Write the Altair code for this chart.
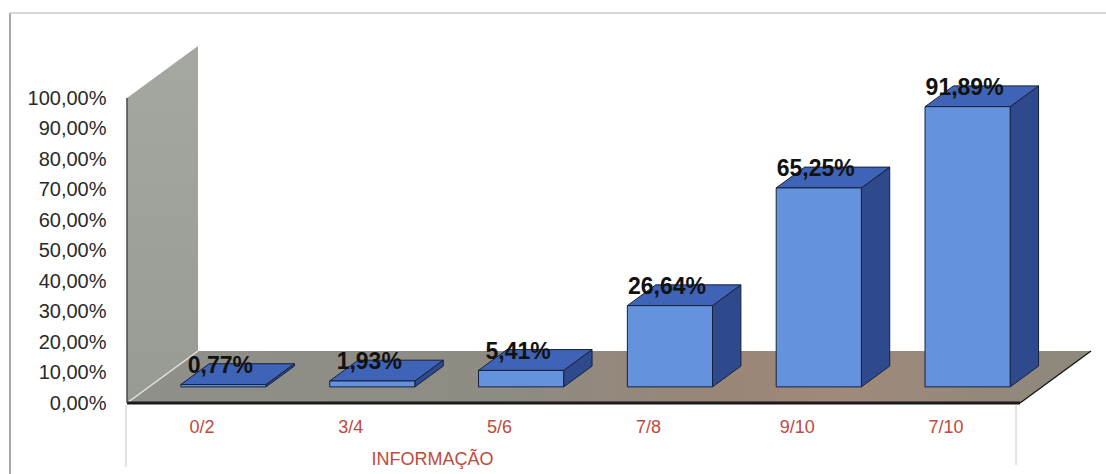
import json
import altair as alt
import pandas as pd

# ---- data -------------------------------------------------------------
categories = ["0/2", "3/4", "5/6", "7/8", "9/10", "7/10"]
shares = [0.77, 1.93, 5.41, 26.64, 65.25, 91.89]
y_ticks = [0, 10, 20, 30, 40, 50, 60, 70, 80, 90, 100]
x_title = "INFORMAÇÃO"

# ---- 3-D projection (x in category slots, y in percent) ---------------
N = len(categories)
DEPTH_X = 0.477          # horizontal shift across the full floor depth
DEPTH_Y = 17.05          # vertical shift across the full floor depth
FRONT, BACK = 0.31, 0.71  # bar front/back planes as fractions of depth
HALF_W = 0.286
SHIFT = FRONT * DEPTH_X
BASE = FRONT * DEPTH_Y
BAR_DX = (BACK - FRONT) * DEPTH_X
BAR_DY = (BACK - FRONT) * DEPTH_Y
X_MAX = N + DEPTH_X
Y_MAX = 117.4

PLOT_W, PLOT_H = 964, 358

FRONT_COL = "#6592dd"
TOP_COL = "#3f63b6"
SIDE_COL = "#2f4a8c"
EDGE_COL = "#16203d"

fronts, sides, tops, labels = [], [], [], []
for i, (c, v) in enumerate(zip(categories, shares)):
    cx = i + 0.5 + SHIFT
    L, R = cx - HALF_W, cx + HALF_W
    fronts.append({"cat": c, "l": L, "r": R, "b": BASE, "t": BASE + v})
    sides.append({"cat": c, "x": R, "y": BASE, "y2": BASE + v})
    sides.append({"cat": c, "x": R + BAR_DX, "y": BASE + BAR_DY, "y2": BASE + v + BAR_DY})
    tops.append({"cat": c, "y": BASE + v, "x": L, "x2": R})
    tops.append({"cat": c, "y": BASE + v + BAR_DY, "x": L + BAR_DX, "x2": R + BAR_DX})
    labels.append({"cat": c, "x": cx, "y": BASE + v + BAR_DY,
                   "txt": f"{v:.2f}".replace(".", ",") + "%"})

wall = pd.DataFrame([
    {"x": 0.0, "y": 0.0, "y2": 100.0},
    {"x": DEPTH_X, "y": DEPTH_Y, "y2": 100.0 + DEPTH_Y},
])
floor = pd.DataFrame([
    {"y": 0.0, "x": 0.0, "x2": float(N)},
    {"y": DEPTH_Y, "x": DEPTH_X, "x2": N + DEPTH_X},
])
seam = pd.DataFrame([{"x": 0.0, "y": 0.0}, {"x": DEPTH_X, "y": DEPTH_Y}])
right_edge = pd.DataFrame([{"x": float(N), "y": 0.0}, {"x": N + DEPTH_X, "y": DEPTH_Y}])
front_edge = pd.DataFrame([{"x": 0.0, "x2": float(N), "y": 0.0}])
wall_edge = pd.DataFrame([{"x": 0.0, "y": 0.0, "y2": 100.0}])

# ---- scales & axes ----------------------------------------------------
xs = alt.Scale(domain=[0, X_MAX], nice=False, zero=False)
ys = alt.Scale(domain=[0, Y_MAX], nice=False, zero=False)

x_axis = alt.Axis(
    values=[i + 0.5 for i in range(N)],
    labelExpr=json.dumps(categories) + "[floor(datum.value)]",
    domain=False, ticks=False, grid=False, labelFlush=False,
    labelPadding=15, labelFontSize=18, labelColor="#c0493c",
    labelFont="Liberation Sans",
    title=x_title, titleFont="Liberation Sans", titleFontSize=18,
    titleFontWeight="normal", titleColor="#c0493c",
    titleX=305, titleY=56, titleAlign="center", titleBaseline="middle",
)
y_axis = alt.Axis(
    values=y_ticks,
    labelExpr="replace(format(datum.value, '.2f'), '.', ',') + '%'",
    domain=False, ticks=False, grid=False,
    labelPadding=21, labelFontSize=20, labelColor="#2a2a2a",
    labelFont="Liberation Sans", title=None,
)


def X(field):
    return alt.X(field, type="quantitative", scale=xs, axis=x_axis)


def Y(field):
    return alt.Y(field, type="quantitative", scale=ys, axis=y_axis)


wall_layer = alt.Chart(wall).mark_area(
    orient="vertical",
    color=alt.Gradient(
        gradient="linear", x1=0, y1=0, x2=0, y2=1,
        stops=[alt.GradientStop(color="#a4a8a0", offset=0),
               alt.GradientStop(color="#979b93", offset=1)],
    ),
).encode(x=X("x"), y=Y("y"), y2="y2")

floor_layer = alt.Chart(floor).mark_area(
    orient="horizontal",
    color=alt.Gradient(
        gradient="linear", x1=0, y1=0, x2=1, y2=0,
        stops=[alt.GradientStop(color="#8e9089", offset=0),
               alt.GradientStop(color="#8e8b82", offset=0.4),
               alt.GradientStop(color="#9a8677", offset=0.62),
               alt.GradientStop(color="#9f897a", offset=0.75),
               alt.GradientStop(color="#8c887d", offset=1)],
    ),
).encode(y=Y("y"), x=X("x"), x2="x2")

seam_layer = alt.Chart(seam).mark_line(color="#e4e4e0", strokeWidth=1.5).encode(
    x=X("x"), y=Y("y"))
right_layer = alt.Chart(right_edge).mark_line(color="#1a1a1a", strokeWidth=1.5).encode(
    x=X("x"), y=Y("y"))
front_edge_layer = alt.Chart(front_edge).mark_rule(color="#1a1a1a", strokeWidth=3).encode(
    x=X("x"), x2="x2", y=Y("y"))
wall_edge_layer = alt.Chart(wall_edge).mark_rule(color="#4a4a4a", strokeWidth=1.5).encode(
    x=X("x"), y=Y("y"), y2="y2")

side_layer = alt.Chart(pd.DataFrame(sides)).mark_area(
    orient="vertical", color=SIDE_COL, stroke=EDGE_COL, strokeWidth=1,
).encode(x=X("x"), y=Y("y"), y2="y2", detail="cat:N")

top_layer = alt.Chart(pd.DataFrame(tops)).mark_area(
    orient="horizontal", color=TOP_COL, stroke=EDGE_COL, strokeWidth=1,
).encode(y=Y("y"), x=X("x"), x2="x2", detail="cat:N")

front_layer = alt.Chart(pd.DataFrame(fronts)).mark_rect(
    color=FRONT_COL, stroke=EDGE_COL, strokeWidth=1,
).encode(x=X("l"), x2="r", y=Y("b"), y2="t")

label_layer = alt.Chart(pd.DataFrame(labels)).mark_text(
    font="Liberation Sans", fontSize=23, fontWeight="bold",
    color="#111111", baseline="middle", dy=2, dx=-3,
).encode(x=X("x"), y=Y("y"), text="txt:N")

# light frame lines around the chart area
one = alt.Data(values=[{}])
frame_col = "#c8c8c8"
frame = [
    alt.Chart(one).mark_rule(color="#a8a8a8", strokeWidth=2).encode(
        x=alt.value(-117), y=alt.value(-32), y2=alt.value(PLOT_H + 71)),
    alt.Chart(one).mark_rule(color=frame_col, strokeWidth=1.5).encode(
        x=alt.value(-117), x2=alt.value(PLOT_W + 15), y=alt.value(-32)),
    alt.Chart(one).mark_rule(color=frame_col, strokeWidth=1).encode(
        x=alt.value(-1), y=alt.value(PLOT_H + 2), y2=alt.value(PLOT_H + 64)),
    alt.Chart(one).mark_rule(color=frame_col, strokeWidth=1).encode(
        x=alt.value(889), y=alt.value(PLOT_H + 2), y2=alt.value(PLOT_H + 62)),
]

chart = alt.layer(
    wall_layer, floor_layer, seam_layer, right_layer, front_edge_layer,
    wall_edge_layer, side_layer, top_layer, front_layer, label_layer, *frame,
).properties(
    width=PLOT_W, height=PLOT_H,
    padding={"left": 127, "top": 45, "right": 15, "bottom": 71},
    autosize=alt.AutoSizeParams(type="none"),
    background="white",
).configure_view(stroke=None)

chart.save("out.html", embed_options={"renderer": "svg", "actions": False})
